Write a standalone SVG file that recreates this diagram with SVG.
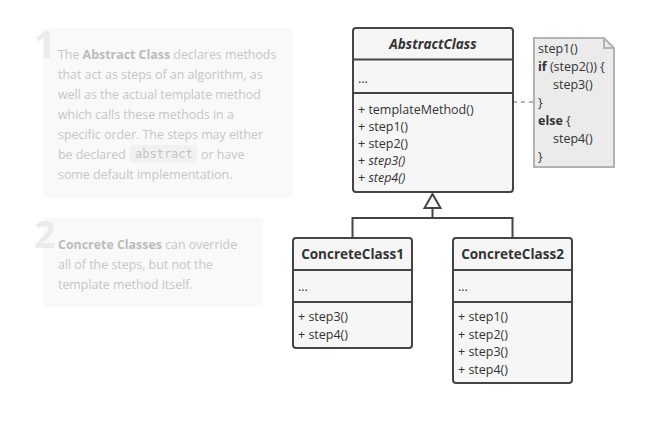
<svg xmlns="http://www.w3.org/2000/svg" width="648" height="437" viewBox="0 0 648 437">
<style>
.panel{fill:#f9f9f9}
.num{font-family:"Open Sans","Liberation Sans",sans-serif;font-weight:700;font-size:38px;fill:#ebebeb}
.pt{font-family:"Open Sans","Liberation Sans",sans-serif;font-size:12.4px;fill:#c6c6c6}
.pt .b{font-weight:700;fill:#bbbbbb}
.code{font-family:"DejaVu Sans Mono","Liberation Mono",monospace;font-size:12px;fill:#c4c4c4}
.box{fill:#f6f6f6;stroke:#444;stroke-width:2}
.div{stroke:#444;stroke-width:2}
.t{font-family:"Open Sans","Liberation Sans",sans-serif;font-size:12.5px;fill:#333}
.title{font-family:"Open Sans","Liberation Sans",sans-serif;font-size:13.5px;font-weight:700;fill:#333;text-anchor:middle}
.note{fill:#ebebeb;stroke:#b3b3b3;stroke-width:2}
.conn{fill:none;stroke:#444;stroke-width:2}
</style>
<g id="panel1">
<rect class="panel" x="43" y="28" width="250" height="170"/>
<text class="num" x="34" y="58">1</text>
<text class="pt"><tspan x="58" y="58.5">The <tspan class="b">Abstract Class</tspan> declares methods</tspan><tspan x="58" y="78.5">that act as steps of an algorithm, as</tspan><tspan x="58" y="98.5">well as the actual template method</tspan><tspan x="58" y="118.5">which calls these methods in a</tspan><tspan x="58" y="138.5">specific order. The steps may either</tspan><tspan x="58" y="158.5">be declared</tspan><tspan x="201" y="158.5">or have</tspan><tspan x="58" y="178.5">some default implementation.</tspan></text>
<rect x="130" y="145" width="67" height="18" rx="3" fill="#f1f1f1"/>
<text class="code" x="135" y="158">abstract</text>
</g>
<g id="panel2">
<rect class="panel" x="43" y="218" width="220" height="89"/>
<text class="num" x="34" y="248">2</text>
<text class="pt"><tspan x="58" y="249"><tspan class="b">Concrete Classes</tspan> can override</tspan><tspan x="58" y="269">all of the steps, but not the</tspan><tspan x="58" y="289">template method itself.</tspan></text>
</g>
<g id="connectors">
<line x1="513" y1="102" x2="534" y2="102" stroke="#b3b3b3" stroke-width="2" stroke-dasharray="4,4"/>
<polyline class="conn" points="352.5,238 352.5,218 512.5,218 512.5,238"/>
<line class="conn" x1="432.5" y1="218" x2="432.5" y2="208"/>
<polygon points="432.5,194 424.5,208 440.5,208" fill="#fff" stroke="#444" stroke-width="2"/>
</g>
<g id="AbstractClass">
<rect class="box" x="353" y="28" width="160" height="164" rx="3"/>
<line class="div" x1="353" y1="59.5" x2="513" y2="59.5"/>
<line class="div" x1="353" y1="93" x2="513" y2="93"/>
<text class="title" x="433" y="49" font-style="italic">AbstractClass</text>
<text class="t" x="358" y="83">...</text>
<text class="t" x="358" y="114">+ templateMethod()</text>
<text class="t" x="358" y="131">+ step1()</text>
<text class="t" x="358" y="148">+ step2()</text>
<text class="t" x="358" y="165">+ <tspan font-style="italic">step3()</tspan></text>
<text class="t" x="358" y="182">+ <tspan font-style="italic">step4()</tspan></text>
</g>
<g id="Note">
<path class="note" d="M534,38 H604 L614,48 V167 H534 Z"/>
<path d="M604,38 V48 H614" fill="none" stroke="#b3b3b3" stroke-width="2"/>
<text class="t"><tspan x="538" y="53">step1()</tspan><tspan x="538" y="71"><tspan font-weight="700">if</tspan> (step2()) {</tspan><tspan x="553" y="89">step3()</tspan><tspan x="538" y="107">}</tspan><tspan x="538" y="125" font-weight="700">else</tspan><tspan> {</tspan><tspan x="553" y="143">step4()</tspan><tspan x="538" y="161">}</tspan></text>
</g>
<g id="ConcreteClass1">
<rect class="box" x="293" y="238" width="119" height="110" rx="3"/>
<line class="div" x1="293" y1="270" x2="412" y2="270"/>
<line class="div" x1="293" y1="302" x2="412" y2="302"/>
<text class="title" x="352.5" y="259">ConcreteClass1</text>
<text class="t" x="298" y="291">...</text>
<text class="t" x="298" y="321">+ step3()</text>
<text class="t" x="298" y="339">+ step4()</text>
</g>
<g id="ConcreteClass2">
<rect class="box" x="453" y="238" width="119" height="145" rx="3"/>
<line class="div" x1="453" y1="270" x2="572" y2="270"/>
<line class="div" x1="453" y1="302" x2="572" y2="302"/>
<text class="title" x="512.5" y="259">ConcreteClass2</text>
<text class="t" x="458" y="291">...</text>
<text class="t" x="458" y="321">+ step1()</text>
<text class="t" x="458" y="339">+ step2()</text>
<text class="t" x="458" y="356">+ step3()</text>
<text class="t" x="458" y="374">+ step4()</text>
</g>
</svg>
